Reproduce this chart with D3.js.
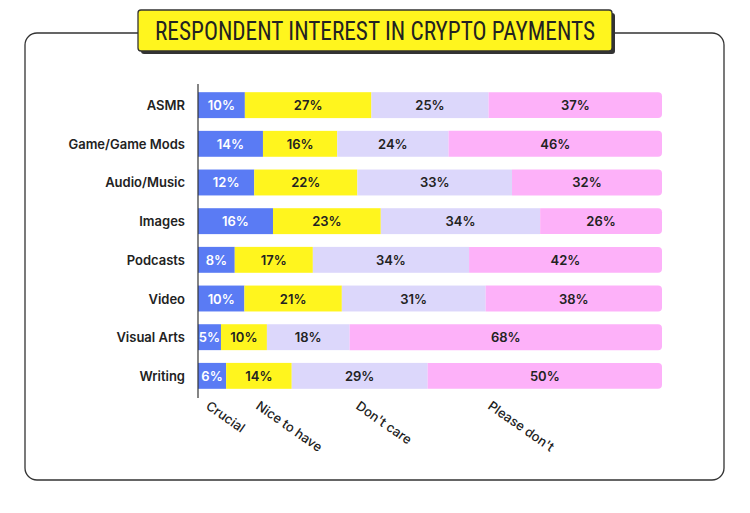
<!DOCTYPE html><html><head><meta charset="utf-8"><script src="https://cdn.jsdelivr.net/npm/d3@7"></script>
<style>body{margin:0;background:#fff}</style></head><body><svg id="c" width="750" height="513"></svg>
<script>
const categories=["ASMR","Game/Game Mods","Audio/Music","Images","Podcasts","Video","Visual Arts","Writing"];
const seriesNames=["Crucial","Nice to have","Don't care","Please don't"];
const crucial=[10,14,12,16,8,10,5,6];
const niceToHave=[27,16,22,23,17,21,10,14];
const dontCare=[25,24,33,34,34,31,18,29];
const pleaseDont=[37,46,32,26,42,38,68,50];
const colors=["#5a7bf4","#fff51e","#dcd7fb","#fdb1f9"];
const textColors=["#fff","#222","#222","#222"];
const legendX=[205,255,355,487];
const svg=d3.select("#c");
const F="Inter, 'Noto Sans', sans-serif";
svg.append("rect").attr("x",25).attr("y",33).attr("width",699).attr("height",447).attr("rx",12).attr("fill","#fff").attr("stroke","#333").attr("stroke-width",1.3);
svg.append("rect").attr("x",141).attr("y",13).attr("width",474).attr("height",41).attr("rx",3).attr("fill","#333");
svg.append("rect").attr("x",138).attr("y",10).attr("width",474).attr("height",41).attr("rx",3).attr("fill","#fff51e").attr("stroke","#333").attr("stroke-width",1.3);
svg.append("text").attr("x",375).attr("y",31).attr("text-anchor","middle").attr("dominant-baseline","central").attr("font-family","'Roboto Condensed', Roboto, sans-serif").attr("font-size",25).attr("fill","#222").attr("textLength",440).attr("lengthAdjust","spacingAndGlyphs").text("RESPONDENT INTEREST IN CRYPTO PAYMENTS");
const data=categories.map((c,i)=>({cat:c,v:[crucial[i],niceToHave[i],dontCare[i],pleaseDont[i]]}));
const x=d3.scaleLinear().domain([0,1]).range([198,662]);
const y=d3.scaleBand().domain(categories).range([86,395]).paddingInner(0.33).paddingOuter(0.16);
const g=svg.append("g");
data.forEach(d=>{
  const tot=d3.sum(d.v);let acc=0;
  d.v.forEach((v,j)=>{
    const x0=x(acc/tot),x1=x((acc+v)/tot);acc+=v;
    const yy=y(d.cat),h=y.bandwidth();
    if(j==3){
      g.append("path").attr("d",`M${x0},${yy}H${x1-4}Q${x1},${yy} ${x1},${yy+4}V${yy+h-4}Q${x1},${yy+h} ${x1-4},${yy+h}H${x0}Z`).attr("fill",colors[j]);
    } else g.append("rect").attr("x",x0).attr("y",yy).attr("width",x1-x0).attr("height",h).attr("fill",colors[j]);
    g.append("text").attr("x",(x0+x1)/2).attr("y",yy+h/2).attr("text-anchor","middle").attr("dominant-baseline","central").attr("font-family",F).attr("font-weight",600).attr("font-size",13).attr("fill",textColors[j]).text(v+"%");
  });
  g.append("text").attr("x",185).attr("y",y(d.cat)+y.bandwidth()/2).attr("text-anchor","end").attr("dominant-baseline","central").attr("font-family",F).attr("font-weight",600).attr("font-size",13).attr("fill","#222").text(d.cat);
});
svg.append("line").attr("x1",198).attr("x2",198).attr("y1",84).attr("y2",398).attr("stroke","#333").attr("stroke-width",1.2);
seriesNames.forEach((s,i)=>{
  svg.append("text").attr("transform",`translate(${legendX[i]},408) rotate(35)`).attr("font-family",F).attr("font-weight",500).attr("font-size",13).attr("fill","#222").text(s);
});
</script></body></html>
